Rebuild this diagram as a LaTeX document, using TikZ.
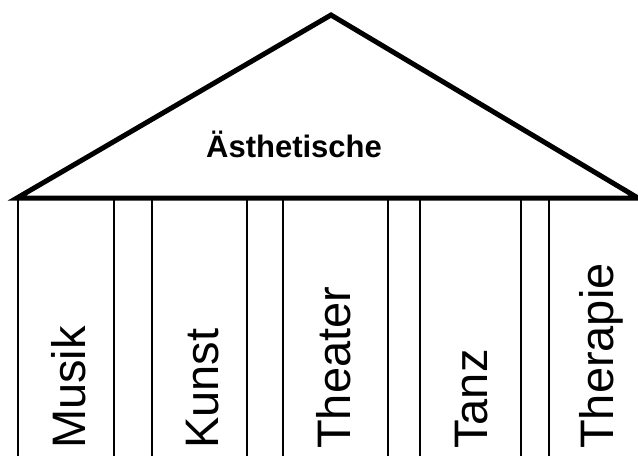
\documentclass[tikz,border=0pt]{standalone}
\usepackage{fontspec}
\setmainfont{Liberation Sans}
\begin{document}
\begin{tikzpicture}[x=1pt,y=-1pt,
  roof/.style={line width=5pt,line join=miter},
  pillar/.style={line width=2pt},
  colname/.style={rotate=90,anchor=base west,inner sep=0pt,font=\fontsize{47}{50}\selectfont},
  title/.style={anchor=base,inner sep=0pt,font=\fontsize{31}{34}\selectfont\bfseries}]
\useasboundingbox (0,0) rectangle (638,456);
\begin{scope}
\clip (0,0) rectangle (638,456);
\coordinate (L) at (17,198);
\coordinate (R) at (638,198);
\coordinate (A) at (331,15);
\draw[roof] (L) -- (A) -- (R) -- cycle;
\foreach \x in {18,114,152,247,283,388,420,521,549}{
  \draw[pillar] (\x,200) -- (\x,456);
}
\end{scope}
\node[title] (t) at (294,157) {Ästhetische};
\node[colname] (m) at (85,449) {Musik};
\node[colname] (k) at (218,449) {Kunst};
\node[colname] (th) at (350,449) {Theater};
\node[colname] (ta) at (487,449) {Tanz};
\node[colname] (tp) at (613,449) {Therapie};
\end{tikzpicture}
\end{document}
